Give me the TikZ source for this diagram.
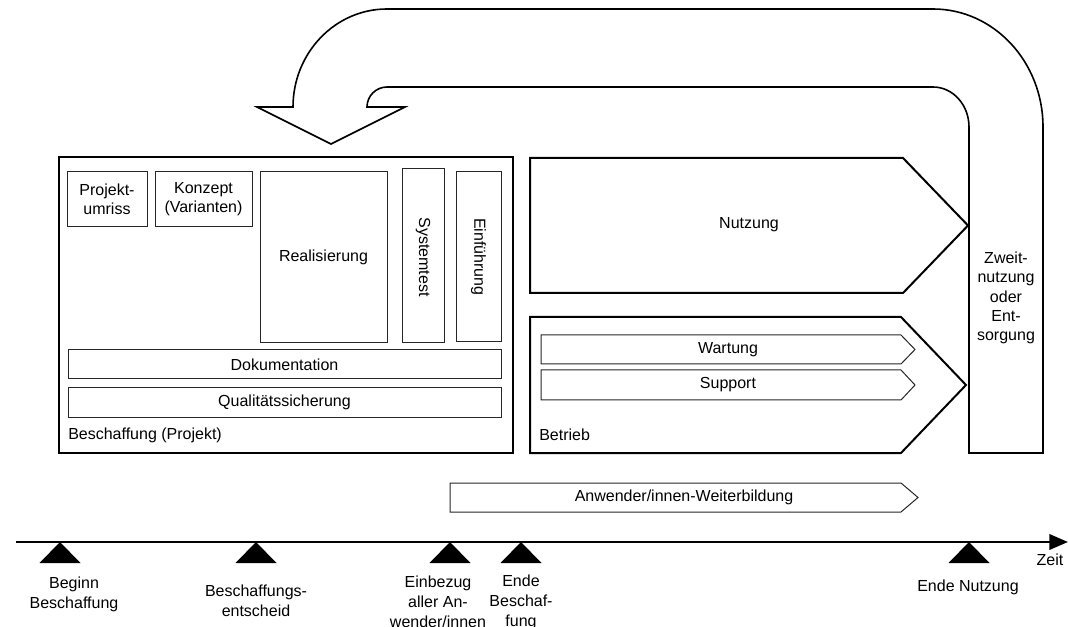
\documentclass[tikz,border=0pt]{standalone}
\usepackage{fontspec}
\setmainfont{Liberation Sans}
\usetikzlibrary{arrows.meta}
\begin{document}
\begin{tikzpicture}[x=0.75pt,y=-0.75pt,
  thickline/.style={draw=black,line width=1.5pt,line join=miter},
  thinbox/.style={draw=black!85,line width=0.75pt},
  bigarrow/.style={draw=black,line width=1.2pt,line join=miter},
  lbl/.style={font=\fontsize{12}{14.5}\selectfont,align=center,inner sep=0pt},
  tlbl/.style={font=\fontsize{12}{15}\selectfont,align=center,inner sep=0pt},
  milestone/.style={fill=black},
  timeline/.style={line width=2pt,-{Triangle[length=14pt,width=11.5pt]}}]

\useasboundingbox (0,0) rectangle (1068,627);

% --- big return arrow with Zweitnutzung part
\draw[bigarrow] (293,107) .. controls (293,52.9) and (335.1,9) .. (387,9)
  -- (933,9) .. controls (993.8,9) and (1043,61.8) .. (1043,127)
  -- (1043,453) -- (969,453) -- (969,127)
  .. controls (969,104.9) and (952.9,87) .. (933,87)
  -- (387,87) .. controls (376,87) and (367,96) .. (367,107)
  -- (405,107) -- (331,144) -- (257,107) -- cycle;
\node[lbl] (zweit) at (1006,298) {Zweit-\\nutzung\\oder\\Ent-\\sorgung};

% --- Beschaffung (Projekt)
\draw[thickline] (59,157) rectangle (513,453);
\node[lbl,anchor=west] (besch) at (68,435) {Beschaffung (Projekt)};

\draw[thinbox] (67,172) rectangle (147,227);
\node[lbl] (umriss) at (107,199) {Projekt-\\umriss};
\draw[thinbox] (155,172) rectangle (252,227);
\node[lbl] (konzept) at (203.5,199) {Konzept\\(Varianten)};
\draw[thinbox] (260,172) rectangle (387,343);
\node[lbl] (real) at (323.5,257) {Realisierung};
\draw[thinbox] (402,169) rectangle (444,343);
\node[lbl,rotate=-90] (systest) at (423,257) {Systemtest};
\draw[thinbox] (456,172) rectangle (501,342);
\node[lbl,rotate=-90] (einf) at (478.5,257) {Einführung};
\draw[thinbox] (68,350) rectangle (501,379);
\node[lbl] (doku) at (284.5,364.5) {Dokumentation};
\draw[thinbox] (68,388) rectangle (501,417);
\node[lbl] (qs) at (284.5,402.5) {Qualitätssicherung};

% --- Nutzung
\draw[thickline] (530,158) -- (903,158) -- (968,225.5) -- (903,293) -- (530,293) -- cycle;
\node[lbl] (nutzung) at (749,225) {Nutzung};

% --- Betrieb
\draw[thickline] (530,317) -- (901,317) -- (966,385) -- (901,453) -- (530,453) -- cycle;
\node[lbl,anchor=west] (betrieb) at (539,435) {Betrieb};
\draw[thinbox] (541,335) -- (901,335) -- (915,349.5) -- (901,364) -- (541,364) -- cycle;
\node[lbl] (wartung) at (728,349.5) {Wartung};
\draw[thinbox] (541,370) -- (901,370) -- (915,385) -- (901,400) -- (541,400) -- cycle;
\node[lbl] (support) at (728,385) {Support};

% --- Weiterbildung
\draw[thinbox] (450,483) -- (901,483) -- (918,497.5) -- (901,512) -- (450,512) -- cycle;
\node[lbl] (weiter) at (684,497.5) {Anwender/innen-Weiterbildung};

% --- timeline
\coordinate (t0) at (16,542);
\coordinate (t1) at (1068,542);
\draw[timeline] (t0) -- (t1);
\node[tlbl] (zeit) at (1050,560) {Zeit};

\coordinate (m1) at (60,542);
\coordinate (m2) at (256,542);
\coordinate (m3) at (450,542);
\coordinate (m4) at (521,542);
\coordinate (m5) at (969,542);
\foreach \m in {m1,m2,m3,m4,m5}{
  \fill[milestone] (\m) -- ++(-20.5,21) -- ++(41,0) -- cycle;
}
\node[tlbl] (l1) at (74,594.5) {Beginn\\Beschaffung};
\node[tlbl] (l2) at (256,600.5) {Beschaffungs-\\entscheid};
\node[tlbl] (l3) at (438,602) {Einbezug\\aller An-\\wender/innen};
\node[tlbl] (l4) at (521,602) {Ende\\Beschaf-\\fung};
\node[tlbl] (l5) at (968,587) {Ende Nutzung};
\end{tikzpicture}
\end{document}
